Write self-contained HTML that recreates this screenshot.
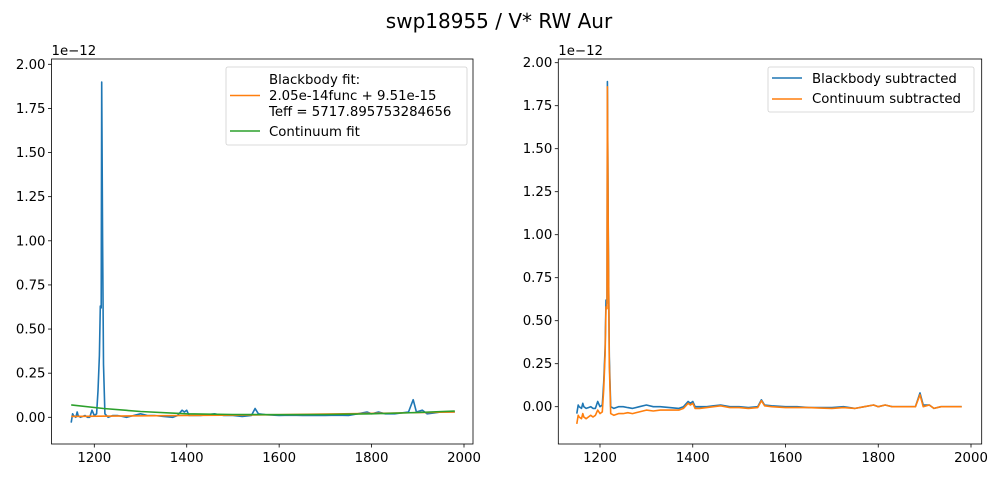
<!DOCTYPE html>
<html><head><meta charset="utf-8"><style>
body{margin:0;background:#fff;}
svg{display:block;font-family:"DejaVu Sans","Liberation Sans",sans-serif;}
</style></head><body>
<svg id="fig" width="999" height="478" viewBox="0 0 999 478">
<rect width="999" height="478" fill="#fff"/>
<text x="499" y="28" text-anchor="middle" font-size="20">swp18955 / V* RW Aur</text>
</svg>
<script>
const wl=[1150,1153,1155,1160,1163,1165,1170,1175,1180,1185,1190,1195,1200,1205,1208,1211,1213,1215,1216,1218,1220,1223,1230,1240,1250,1260,1270,1285,1300,1315,1330,1350,1370,1380,1390,1395,1400,1405,1415,1430,1445,1460,1480,1500,1520,1540,1548,1555,1570,1600,1625,1650,1675,1700,1725,1750,1770,1790,1800,1815,1830,1850,1880,1890,1897,1910,1920,1935,1950,1965,1980];
const flux=[-0.03,0.02,0.01,0.0,0.03,0.01,0.0,0.005,0.01,0.0,0.0,0.04,0.01,0.02,0.15,0.35,0.63,0.62,1.9,1.0,0.3,0.02,0.0,0.01,0.01,0.005,0.0,0.01,0.02,0.01,0.01,0.005,0.0,0.01,0.04,0.03,0.04,0.01,0.01,0.01,0.015,0.02,0.01,0.01,0.005,0.01,0.05,0.02,0.015,0.01,0.012,0.01,0.01,0.01,0.012,0.01,0.02,0.03,0.02,0.03,0.02,0.02,0.03,0.1,0.03,0.04,0.02,0.025,0.03,0.03,0.03];
const fitWl=[1150,1400,1600,1800,1980];
const bbFit=[0.005,0.01,0.015,0.022,0.03];
const contWl=[1150,1220,1300,1400,1500,1600,1700,1800,1900,1980];
const contVals=[0.07,0.05,0.033,0.02,0.016,0.015,0.016,0.02,0.027,0.035];
const bbSub=[-0.04,0.01,0.0,-0.01,0.02,0.0,-0.01,-0.005,0.0,-0.01,-0.01,0.03,0.0,0.01,0.14,0.34,0.62,0.6,1.89,0.99,0.29,0.0,-0.01,0.0,0.0,-0.005,-0.01,0.0,0.01,0.0,0.0,-0.005,-0.01,0.0,0.03,0.02,0.03,0.0,0.0,0.0,0.005,0.01,0.0,0.0,-0.005,0.0,0.04,0.01,0.005,0.0,0.0,-0.005,-0.005,-0.005,0.0,-0.01,0.0,0.01,0.0,0.01,0.0,0.0,0.0,0.08,0.01,0.01,-0.01,0.0,0.0,0.0,0.0];
const contSub=[-0.1,-0.05,-0.06,-0.07,-0.04,-0.06,-0.07,-0.06,-0.05,-0.06,-0.05,-0.02,-0.04,-0.03,0.1,0.3,0.58,0.57,1.86,0.95,0.25,-0.04,-0.05,-0.04,-0.04,-0.035,-0.04,-0.03,-0.02,-0.025,-0.02,-0.02,-0.02,-0.01,0.02,0.01,0.02,-0.01,-0.01,-0.005,0.0,0.005,-0.005,-0.005,-0.01,-0.005,0.035,0.005,0.0,-0.005,-0.005,-0.005,-0.008,-0.01,-0.005,-0.01,0.0,0.01,0.0,0.01,0.0,0.0,0.0,0.07,0.0,0.01,-0.01,0.0,0.0,0.0,0.0];
const xticks=[1200,1400,1600,1800,2000];
const yticks=[0,0.25,0.5,0.75,1.0,1.25,1.5,1.75,2.0];
const ytickLabels=["0.00","0.25","0.50","0.75","1.00","1.25","1.50","1.75","2.00"];

const NS="http://www.w3.org/2000/svg";
const svg=document.getElementById('fig');
function mk(tag,attrs,parent){const e=document.createElementNS(NS,tag);for(const k in attrs)e.setAttribute(k,attrs[k]);(parent||svg).appendChild(e);return e;}

function panel(cfg){
  const g=mk('g',{});
  
  
  const sx=v=>cfg.x1200+(v-1200)*(cfg.x2000-cfg.x1200)/800;
  const sy=v=>cfg.y0+(v)*(cfg.y2-cfg.y0)/2;
  for(const s of cfg.series){
    const p=mk('path',{d:s.x.map((v,i)=>(i?'L':'M')+sx(v).toFixed(1)+','+sy(s.y[i]).toFixed(1)).join(''),fill:'none',stroke:s.color,'stroke-width':1.6,'stroke-linejoin':'round'},g);
    
    
  }
  const fr=mk('rect',{x:cfg.l,y:cfg.t,width:cfg.r-cfg.l,height:cfg.b-cfg.t,fill:'none',stroke:'#000','stroke-width':0.8},g);
  
  
  xticks.forEach(v=>{
    mk('line',{x1:sx(v),x2:sx(v),y1:cfg.b,y2:cfg.b+3.5,stroke:'#000','stroke-width':0.8},g);
    const t=mk('text',{x:sx(v),y:cfg.b+18,'text-anchor':'middle','font-size':13.3},g);
    t.textContent=v;
    
    
  });
  yticks.forEach((v,i)=>{
    mk('line',{x1:cfg.l-3.5,x2:cfg.l,y1:sy(v),y2:sy(v),stroke:'#000','stroke-width':0.8},g);
    const t=mk('text',{x:cfg.l-6,y:sy(v)+4.5,'text-anchor':'end','font-size':13.3},g);
    t.textContent=ytickLabels[i];
    
    
  });
  const off=mk('text',{x:cfg.l,y:cfg.t-4,'font-size':13.3},g);
  off.textContent='1e\u221212';
  
  
  const lg=mk('g',{},g);
  
  
  mk('rect',{x:cfg.lg.x,y:cfg.lg.y,width:cfg.lg.w,height:cfg.lg.h,rx:2,fill:'#fff','fill-opacity':0.8,stroke:'#d0d0d0','stroke-width':0.8},lg);
  cfg.lg.items.forEach(it=>{
    mk('line',{x1:cfg.lg.x+4,x2:cfg.lg.x+34,y1:it.ly,y2:it.ly,stroke:it.color,'stroke-width':1.6},lg);
    it.lines.forEach((s,k)=>{
      const t=mk('text',{x:cfg.lg.x+cfg.lg.tx,y:it.ty+k*16,'font-size':13.3},lg);
      t.textContent=s;
      
      
    });
  });
}

panel({name:'left-panel',l:51.5,r:473,t:59,b:444,x1200:94.3,x2000:464,y0:417.3,y2:64.3,
  series:[{name:'spectrum-line',x:wl,y:flux,color:'#1f77b4'},
          {name:'blackbody-fit-line',x:fitWl,y:bbFit,color:'#ff7f0e'},
          {name:'continuum-fit-line',x:contWl,y:contVals,color:'#2ca02c'}],
  lg:{x:226,y:67,w:241,h:78,tx:43,items:[
    {color:'#ff7f0e',ly:95.5,ty:84,lines:['Blackbody fit:','2.05e-14func + 9.51e-15','Teff = 5717.895753284656']},
    {color:'#2ca02c',ly:131,ty:136,lines:['Continuum fit']}]}});

panel({name:'right-panel',l:558.3,r:981.7,t:59,b:444,x1200:600,x2000:971,y0:406.7,y2:62.7,
  series:[{name:'blackbody-subtracted-line',x:wl,y:bbSub,color:'#1f77b4'},
          {name:'continuum-subtracted-line',x:wl,y:contSub,color:'#ff7f0e'}],
  lg:{x:768,y:67,w:206,h:45,tx:44,items:[
    {color:'#1f77b4',ly:78,ty:83,lines:['Blackbody subtracted']},
    {color:'#ff7f0e',ly:99,ty:103,lines:['Continuum subtracted']}]}});
</script>
</body></html>
